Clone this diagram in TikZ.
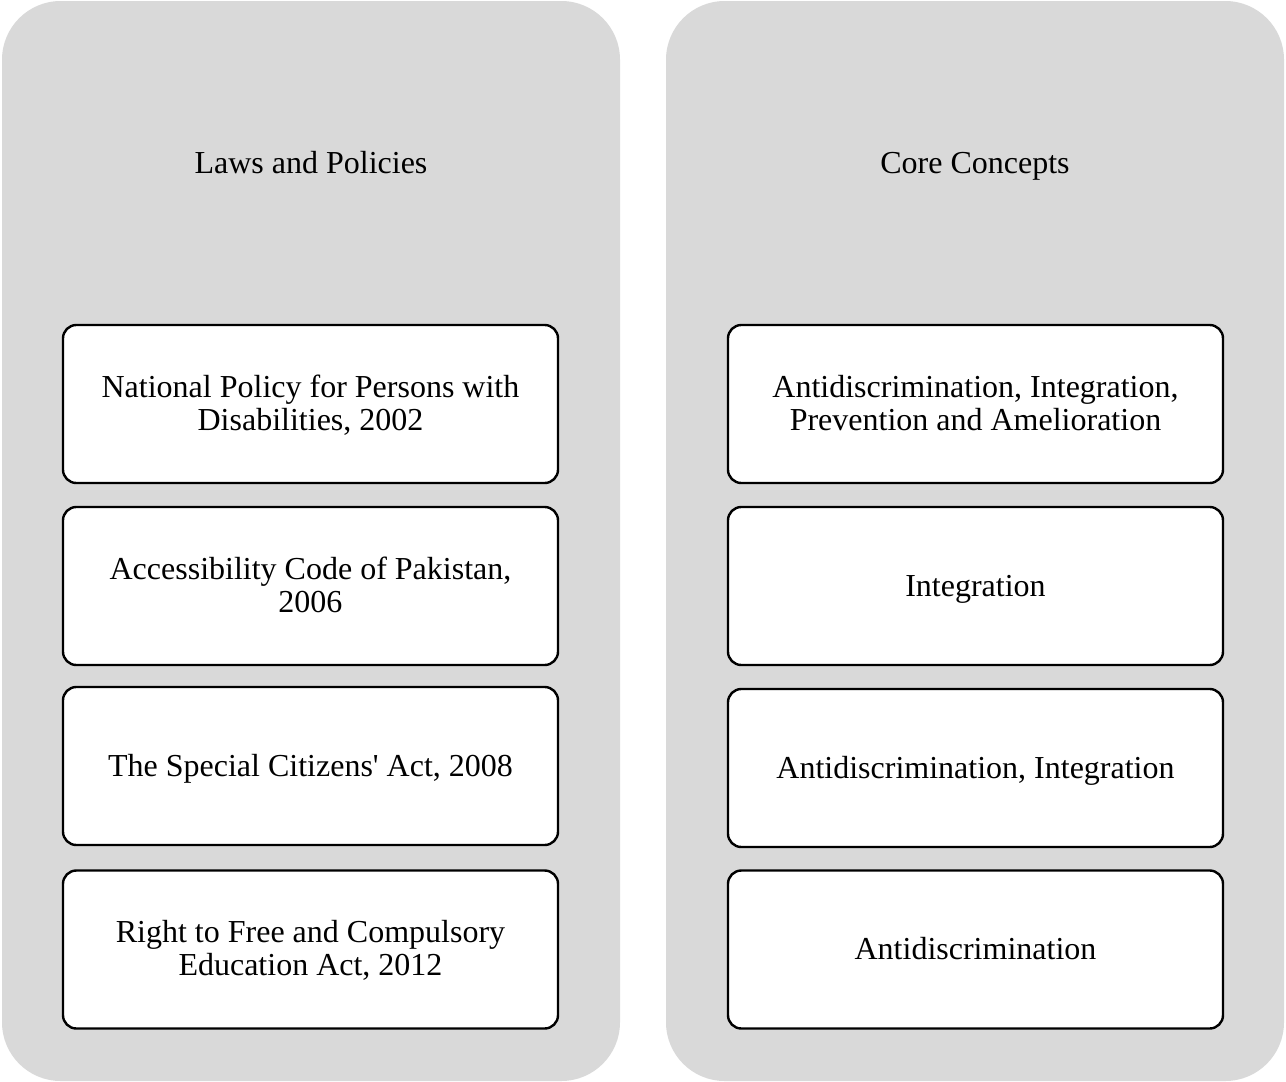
\documentclass[tikz,border=0pt]{standalone}
\usepackage{fontspec}
\newfontfamily\tnr{Liberation Serif}
\definecolor{panelgray}{HTML}{D9D9D9}
\begin{document}
\begin{tikzpicture}[x=0.75pt,y=-0.75pt,
  panel/.style={fill=panelgray,draw=none,rounded corners=44pt},
  item/.style={draw=black,fill=white,line width=1.8pt,rounded corners=10pt,
    minimum width=495*0.75pt,minimum height=158*0.75pt,inner sep=0pt},
  txt/.style={align=center,font=\tnr\fontsize{24pt}{24.75pt}\selectfont,inner sep=0pt,anchor=base},
  title/.style={font=\tnr\fontsize{24pt}{24.75pt}\selectfont,inner sep=0pt,anchor=base}]
\useasboundingbox (0,0) rectangle (1286,1082);
\fill[panel] (2,1) rectangle (620,1081);
\fill[panel] (666,1) rectangle (1284,1081);
\node[title] (lt) at (311,173) {Laws and Policies};
\node[title] (rt) at (975,173) {Core Concepts};
\node[item] (l1) at (310.5,404) {};
\node[item] (l2) at (310.5,586) {};
\node[item] (l3) at (310.5,766) {};
\node[item] (l4) at (310.5,949.5) {};
\node[item] (r1) at (975.5,404) {};
\node[item] (r2) at (975.5,586) {};
\node[item] (r3) at (975.5,768) {};
\node[item] (r4) at (975.5,949.5) {};
\node[txt] (l1t) at ([yshift=-26*0.75pt]l1.center) {National Policy for Persons with\\Disabilities, 2002};
\node[txt] (l2t) at ([yshift=-26*0.75pt]l2.center) {Accessibility Code of Pakistan,\\2006};
\node[txt] (l3t) at ([yshift=-10*0.75pt]l3.center) {The Special Citizens\textquotesingle{} Act, 2008};
\node[txt] (l4t) at ([yshift=-26*0.75pt]l4.center) {Right to Free and Compulsory\\Education Act, 2012};
\node[txt] (r1t) at ([yshift=-26*0.75pt]r1.center) {Antidiscrimination, Integration,\\Prevention and Amelioration};
\node[txt] (r2t) at ([yshift=-10*0.75pt]r2.center) {Integration};
\node[txt] (r3t) at ([yshift=-10*0.75pt]r3.center) {Antidiscrimination, Integration};
\node[txt] (r4t) at ([yshift=-10*0.75pt]r4.center) {Antidiscrimination};
\end{tikzpicture}
\end{document}
